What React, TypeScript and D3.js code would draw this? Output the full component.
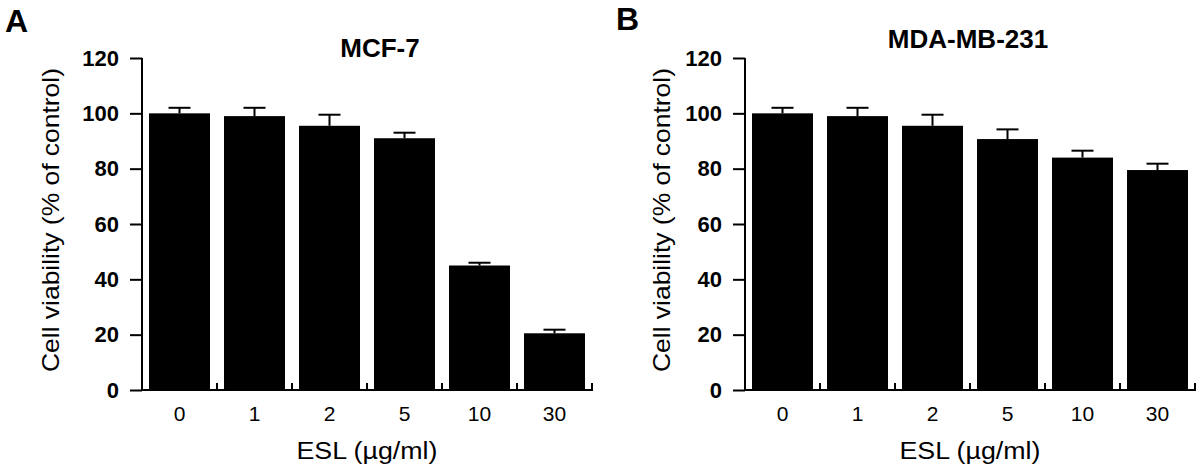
import { useEffect, useRef } from "react";
import * as d3 from "d3";

// ESL doses (µg/ml)
const DOSES = ["0", "1", "2", "5", "10", "30"];

// Cell viability, % of control
const MCF7_MEAN = [100, 99, 95.5, 91, 45, 20.5];
const MCF7_ERR = [2, 3, 4, 2, 1, 1.3];
const MDA_MEAN = [100, 99, 95.5, 90.7, 84, 79.5];
const MDA_ERR = [2, 3, 4, 3.5, 2.5, 2.3];

const Y_TICKS = [0, 20, 40, 60, 80, 100, 120];

const FONT = "'Liberation Sans', Arial, Helvetica, sans-serif";

const PANELS = [
  { letter: "A", letterX: 5, letterY: 32, left: 142, title: "MCF-7", titleDx: 13, titleY: 57, labelX: 51, mean: MCF7_MEAN, err: MCF7_ERR },
  { letter: "B", letterX: 616, letterY: 30, left: 745, title: "MDA-MB-231", titleDx: -2, titleY: 48, labelX: 662, mean: MDA_MEAN, err: MDA_ERR },
];

export default function App() {
  const svgRef = useRef<SVGSVGElement>(null);

  useEffect(() => {
    const svg = d3.select(svgRef.current);
    svg.selectAll("*").remove();

    const plotW = 450;
    const top = 58;
    const bottom = 390;

    const y = d3.scaleLinear().domain([0, 120]).range([bottom, top]);
    const x = d3
      .scaleBand<string>()
      .domain(DOSES)
      .range([0, plotW])
      .paddingInner(0.187)
      .paddingOuter(0.0935);

    for (const p of PANELS) {
      // panel letter
      svg.append("text")
        .attr("x", p.letterX)
        .attr("y", p.letterY)
        .attr("font-family", FONT)
        .attr("font-weight", "bold")
        .attr("font-size", "32px")
        .text(p.letter);

      const g = svg.append("g").attr("transform", `translate(${p.left},0)`);

      // title
      g.append("text")
        .attr("x", plotW / 2 + p.titleDx)
        .attr("y", p.titleY)
        .attr("text-anchor", "middle")
        .attr("font-family", FONT)
        .attr("font-weight", "bold")
        .attr("font-size", "26px")
        .text(p.title);

      // bars
      g.selectAll("rect.bar")
        .data(p.mean)
        .join("rect")
        .attr("class", "bar")
        .attr("x", (_, i) => x(DOSES[i])!)
        .attr("y", (d) => y(d))
        .attr("width", x.bandwidth())
        .attr("height", (d) => bottom - y(d))
        .attr("fill", "#000");

      // error bars (upper only)
      p.mean.forEach((m, i) => {
        const cx = x(DOSES[i])! + x.bandwidth() / 2;
        g.append("line")
          .attr("x1", cx).attr("x2", cx)
          .attr("y1", y(m)).attr("y2", y(m + p.err[i]))
          .attr("stroke", "#000").attr("stroke-width", 2);
        g.append("line")
          .attr("x1", cx - 11).attr("x2", cx + 11)
          .attr("y1", y(m + p.err[i])).attr("y2", y(m + p.err[i]))
          .attr("stroke", "#000").attr("stroke-width", 2);
      });

      // y axis
      const ya = g.append("g")
        .call(d3.axisLeft(y).tickValues(Y_TICKS).tickSize(12).tickPadding(11).tickFormat(d3.format("d")));
      ya.selectAll("path, line").attr("stroke", "#000").attr("stroke-width", 2);
      ya.select(".domain").attr("d", `M0,${top}V${bottom}`);
      ya.selectAll("text")
        .attr("fill", "#000")
        .attr("font-family", FONT)
        .attr("font-weight", "bold")
        .attr("font-size", "22px");

      // x axis line with boundary ticks
      g.append("line")
        .attr("x1", -1).attr("x2", plotW + 1)
        .attr("y1", bottom).attr("y2", bottom)
        .attr("stroke", "#000").attr("stroke-width", 2);
      DOSES.forEach((d) => {
        const bx = x(d)! + x.bandwidth() + (x.step() - x.bandwidth()) / 2;
        g.append("line")
          .attr("x1", bx).attr("x2", bx)
          .attr("y1", bottom).attr("y2", bottom - 7)
          .attr("stroke", "#000").attr("stroke-width", 2);
      });

      // x tick labels
      g.selectAll("text.xl")
        .data(DOSES)
        .join("text")
        .attr("class", "xl")
        .attr("x", (d) => x(d)! + x.bandwidth() / 2)
        .attr("y", 421)
        .attr("text-anchor", "middle")
        .attr("font-family", FONT)
        .attr("font-size", "21px")
        .text((d) => d);

      // x axis title
      g.append("text")
        .attr("x", plotW / 2)
        .attr("y", 459)
        .attr("text-anchor", "middle")
        .attr("font-family", FONT)
        .attr("font-size", "23px")
        .attr("textLength", 141)
        .attr("lengthAdjust", "spacingAndGlyphs")
        .text("ESL (\u00b5g/ml)");

      // y axis title
      svg.append("text")
        .attr("transform", `translate(${p.labelX + 8},${(top + bottom) / 2 - 4}) rotate(-90)`)
        .attr("text-anchor", "middle")
        .attr("font-family", FONT)
        .attr("font-size", "24px")
        .attr("textLength", 304)
        .attr("lengthAdjust", "spacingAndGlyphs")
        .text("Cell viability (% of control)");
    }
  }, []);

  return (
    <div style={{ position: "absolute", left: 0, top: 0 }}>
      <svg ref={svgRef} width={1200} height={468} style={{ display: "block", background: "#fff" }} />
    </div>
  );
}
